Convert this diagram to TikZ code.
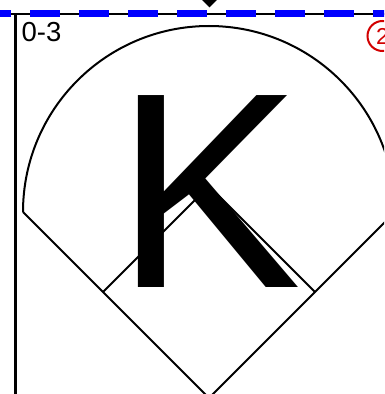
\documentclass[tikz,border=0pt]{standalone}
\usepackage{fontspec}
\setmainfont{Liberation Sans}
\definecolor{dashblue}{RGB}{0,0,255}
\definecolor{markred}{RGB}{210,0,0}
\begin{document}
\begin{tikzpicture}[x=1pt,y=1pt,
  fieldline/.style={line width=2pt,line join=miter},
  gridline/.style={line width=2.2pt},
  bluedash/.style={draw=dashblue,line width=7pt,dash pattern=on 29.5pt off 19.5pt},
  bigletter/.style={inner sep=0pt,anchor=base west,font=\fontsize{279}{285}\selectfont},
  count/.style={inner sep=0pt,anchor=base west,font=\fontsize{27.5}{30}\selectfont},
  runmark/.style={circle,draw=markred,line width=2pt,text=markred,minimum size=30pt,inner sep=0pt,font=\fontsize{23}{25}\selectfont}]
\useasboundingbox (0,0) rectangle (384,394);
\clip (0,0) rectangle (384,394);
\fill[white] (0,0) rectangle (384,394);
% field geometry
\coordinate (L) at (23,182);
\coordinate (R) at (395,182);
\coordinate (H) at (209,-4);
\coordinate (C) at (209,182);
\coordinate (T3) at (103,102);
\coordinate (F1) at (315,102);
\coordinate (S2) at (209,208);
% outfield arc and foul lines
\draw[fieldline] (L) arc[start angle=180,end angle=0,radius=186];
\draw[fieldline] (L) -- (H) -- (R);
% infield
\draw[fieldline] (T3) -- (S2) -- (F1);
% grid lines
\coordinate (vtop) at (15.5,380);
\coordinate (vbot) at (15.5,-5);
\draw[gridline] (vtop) -- (vbot);
\coordinate (hl) at (-5,380);
\coordinate (hr) at (390,380);
\draw[gridline] (hl) -- (hr);
% blue dashed line
\coordinate (bl) at (-19,380);
\coordinate (br) at (400,380);
\draw[bluedash] (bl) -- (br);
% diamond marker
\coordinate (dm) at (209.5,394);
\fill (dm) ++(-7.5,0) -- ++(7.5,-7.5) -- ++(7.5,7.5) -- ++(-7.5,7.5) -- cycle;
% texts
\node[bigletter] (K) at (115.2,106.5) {K};
\node[count] (cnt) at (21.5,352) {0-3};
\node[runmark] (run) at (382.5,358) {2};
\end{tikzpicture}
\end{document}
